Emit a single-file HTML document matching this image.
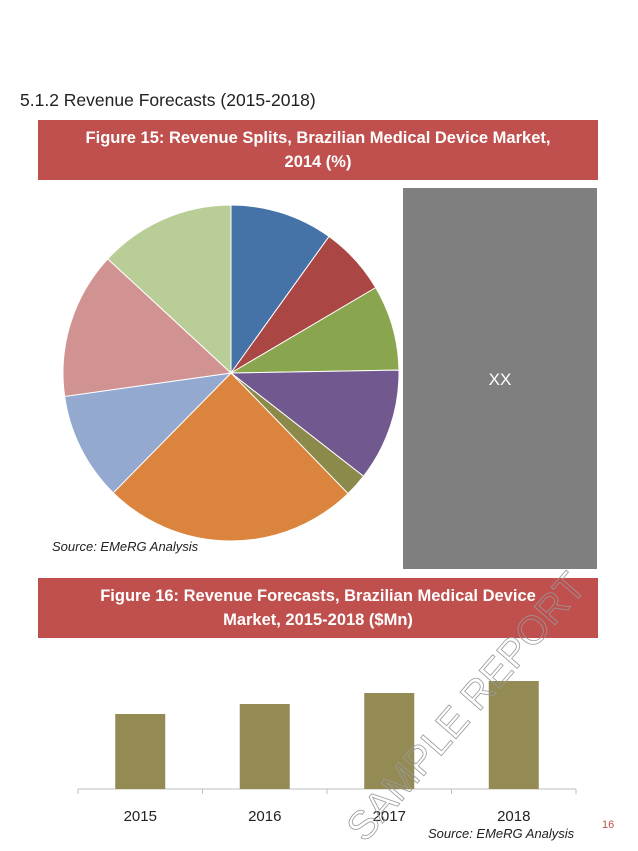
<!DOCTYPE html>
<html><head><meta charset="utf-8"><style>
body{margin:0;width:638px;height:851px;background:#fff;position:relative;overflow:hidden;font-family:"Liberation Sans",sans-serif}
.hdr{position:absolute;left:38px;width:560px;height:60px;background:#c0504d;color:#fff;font-weight:bold;font-size:16.5px;text-align:center;display:flex;align-items:center;justify-content:center;line-height:24px}
</style></head><body>
<div style="position:absolute;left:20px;top:90px;font-size:17.5px;color:#222">5.1.2 Revenue Forecasts (2015-2018)</div>
<div class="hdr" style="top:120px">Figure 15: Revenue Splits, Brazilian Medical Device Market,<br>2014 (%)</div>
<div style="position:absolute;left:403px;top:188px;width:194px;height:381px;background:#7f7f7f;color:#fff;font-size:17px;text-align:center;line-height:384px">XX</div>
<svg id="pie" width="638" height="851" style="position:absolute;left:0;top:0"></svg>
<div style="position:absolute;left:52px;top:539px;font-size:13px;font-style:italic;color:#222">Source: EMeRG Analysis</div>
<div class="hdr" style="top:578px">Figure 16: Revenue Forecasts, Brazilian Medical Device<br>Market, 2015-2018 ($Mn)</div>
<svg id="bar" width="638" height="851" style="position:absolute;left:0;top:0"></svg>
<div style="position:absolute;left:428px;top:826px;font-size:13px;font-style:italic;color:#222">Source: EMeRG Analysis</div>
<div style="position:absolute;left:602px;top:819px;font-size:11px;color:#c0504d">16</div>
<div style="position:absolute;left:340px;top:822px;font-size:40px;line-height:40px;color:transparent;-webkit-text-stroke:0.8px #999;transform:rotate(-49deg);transform-origin:0 0;white-space:nowrap">SAMPLE REPORT</div>
<script>
const sliceLabels=["A","B","C","D","E","F","G","H","I"];
const sliceValues=[9.9,6.6,8.2,10.8,2.2,24.6,10.4,14.1,13.1];
const sliceColors=["#4572a7","#aa4643","#89a54e","#71588f","#8c8a4a","#db843d","#93a9cf","#d19392","#b9cd96"];
const years=["2015","2016","2017","2018"];
const revenues=[75,85,96,108];
const NS="http://www.w3.org/2000/svg";
const pie=document.getElementById('pie');
const cx=231,cy=373,r=168;
const total=sliceValues.reduce((a,b)=>a+b,0);
let a0=0;
sliceValues.forEach((v,i)=>{
  const a1=a0+v/total*2*Math.PI;
  const x0=cx+r*Math.sin(a0),y0=cy-r*Math.cos(a0),x1=cx+r*Math.sin(a1),y1=cy-r*Math.cos(a1);
  const p=document.createElementNS(NS,'path');
  p.setAttribute('d',`M${cx},${cy}L${x0},${y0}A${r},${r} 0 ${a1-a0>Math.PI?1:0} 1 ${x1},${y1}Z`);
  p.setAttribute('fill',sliceColors[i]);p.setAttribute('stroke','#fff');p.setAttribute('stroke-width','1');
  
  
  pie.appendChild(p);a0=a1;
});
const bar=document.getElementById('bar');
const x0=78,x1=576,base=789,yScale=v=>base-v*1.0;
const bw=(x1-x0)/years.length;
function el(t,at){const e=document.createElementNS(NS,t);for(const k in at)e.setAttribute(k,at[k]);bar.appendChild(e);return e;}
const ax=el('line',{x1:x0,y1:base,x2:x1,y2:base,stroke:'#bfbfbf'});


for(let i=0;i<=years.length;i++){el('line',{x1:x0+i*bw,y1:base,x2:x0+i*bw,y2:base+5,stroke:'#bfbfbf'});}
years.forEach((y,i)=>{
  const c=x0+bw*(i+0.5);
  const b=el('rect',{x:c-25,y:yScale(revenues[i]),width:50,height:base-yScale(revenues[i]),fill:'#948a54'});
  
  
  const t=el('text',{x:c,y:821,'text-anchor':'middle','font-size':'15','fill':'#222','font-family':'Liberation Sans, sans-serif'});
  t.textContent=y;
  
  
});
</script>
</body></html>
